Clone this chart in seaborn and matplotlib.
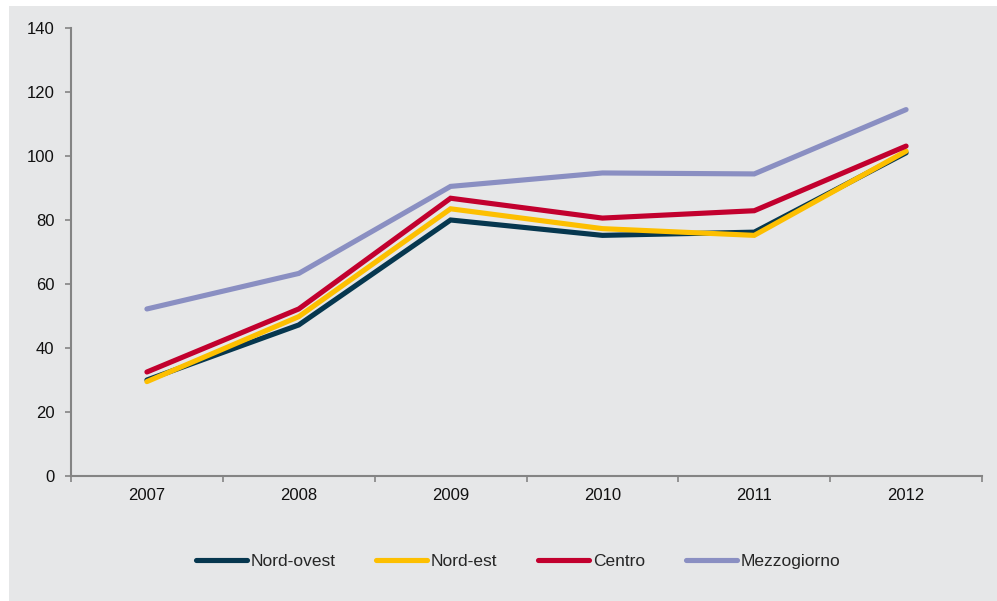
import numpy as np
import pandas as pd
import seaborn as sns
import matplotlib.pyplot as plt
from matplotlib.patches import Rectangle
from matplotlib.ticker import FixedLocator

years = ['2007', '2008', '2009', '2010', '2011', '2012']
nord_ovest = [30.0, 47.2, 80.0, 75.2, 76.2, 101.0]
nord_est = [29.5, 49.8, 83.5, 77.3, 75.2, 101.5]
centro = [32.5, 52.2, 86.8, 80.6, 82.9, 103.1]
mezzogiorno = [52.2, 63.3, 90.5, 94.7, 94.4, 114.5]

series = {'Nord-ovest': nord_ovest, 'Nord-est': nord_est,
          'Centro': centro, 'Mezzogiorno': mezzogiorno}
colors = {'Nord-ovest': '#06374F', 'Nord-est': '#FDBF00',
          'Centro': '#C2002E', 'Mezzogiorno': '#8A8FC2'}

rows = []
for name, vals in series.items():
    for i, v in enumerate(vals):
        rows.append({'pos': i, 'value': v, 'area': name})
df = pd.DataFrame(rows)

bg = '#E6E7E8'
axis_col = '#848484'

sns.set_style('white')
plt.rcParams['font.family'] = ['Liberation Sans', 'DejaVu Sans']

fig = plt.figure(figsize=(9.97, 6.01), dpi=100, facecolor='white')
fig.patches.append(Rectangle((9 / 997, 0), 1, 1 - 6 / 601, transform=fig.transFigure,
                             facecolor=bg, edgecolor='none', zorder=-10))
ax = fig.add_axes([71 / 997, 1 - 476 / 601, (982 - 71) / 997, (476 - 28) / 601])
ax.set_facecolor(bg)

sns.lineplot(data=df, x='pos', y='value', hue='area', palette=colors,
             hue_order=list(series.keys()), lw=3.7, ax=ax, legend=True,
             solid_capstyle='round', solid_joinstyle='miter')

ax.set_xlim(-0.5, len(years) - 0.5)
ax.set_ylim(0, 140)
ax.set_yticks(np.arange(0, 141, 20))
ax.set_xticks(range(len(years)))
ax.set_xticklabels(years)
ax.xaxis.set_minor_locator(FixedLocator(np.arange(-0.5, len(years), 1.0)))
ax.tick_params(axis='x', which='major', length=0, pad=9, labelsize=12, colors='#111111')
ax.tick_params(axis='x', which='minor', length=4, width=1.2, color=axis_col, direction='out', bottom=True)
ax.tick_params(axis='y', length=4, width=1.2, color=axis_col, direction='out', left=True,
               pad=8, labelsize=12, labelcolor='#111111')
ax.set_xlabel('')
ax.set_ylabel('')
for s in ['top', 'right']:
    ax.spines[s].set_visible(False)
for s in ['left', 'bottom']:
    ax.spines[s].set_color(axis_col)
    ax.spines[s].set_linewidth(1.5)

handles, labels = ax.get_legend_handles_labels()
ax.legend(handles, labels, ncol=4, frameon=False, fontsize=12.5,
          loc='center', bbox_to_anchor=(518 / 997, 1 - 561 / 601),
          bbox_transform=fig.transFigure, handlelength=2.95,
          handletextpad=0.2, columnspacing=2.35)

fig.savefig('out.png', dpi=100, facecolor='white')
